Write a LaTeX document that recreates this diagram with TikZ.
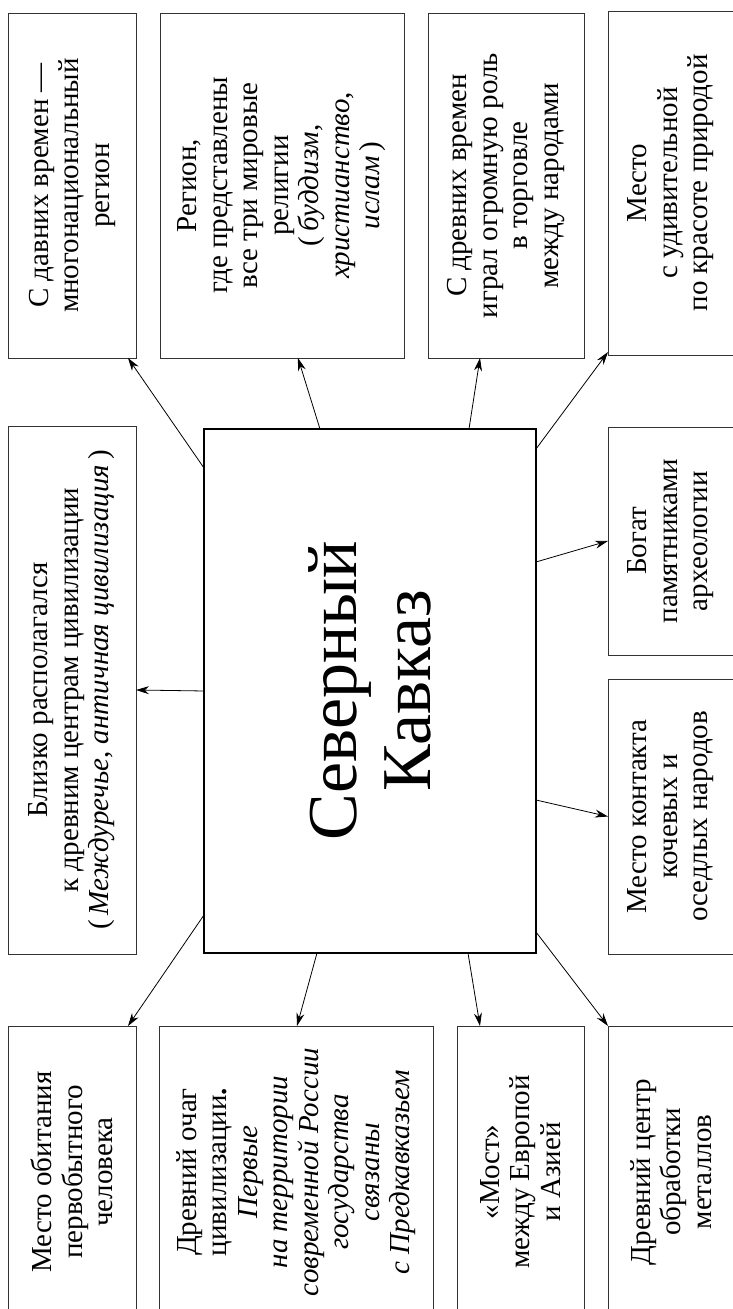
\documentclass[tikz,border=0pt]{standalone}
\usepackage{fontspec}
\setmainfont{Liberation Serif}
\usetikzlibrary{arrows.meta}
\begin{document}
\begin{tikzpicture}[x={(0pt,-1pt)}, y={(-1pt,0pt)}, shift={(1309pt,733pt)},
  execute at begin picture={\special{pdf:put @thispage <</Rotate 270>>}},
  box/.style={draw=black!80, line width=0.9pt, inner sep=0pt, outer sep=0pt},
  hub/.style={draw=black, line width=2pt, inner sep=0pt, outer sep=0pt},
  txt/.style={align=center, inner sep=0pt, font=\fontsize{29}{30.5}\selectfont},
  big/.style={align=center, inner sep=0pt, font=\fontsize{70}{74}\selectfont},
  arr/.style={-{Stealth[length=13pt,width=8pt]}, line width=0.8pt},
]
\useasboundingbox (0,0) rectangle (733,1309);

% boxes (portrait coordinates; widths/heights swapped for the turned page)
\node[box, minimum width=345pt, minimum height=128pt] (A) at (72,185.5) {};
\node[box, minimum width=345pt, minimum height=244pt] (B) at (282,185.5) {};
\node[box, minimum width=345pt, minimum height=156pt] (C) at (506,185.5) {};
\node[box, minimum width=344pt, minimum height=130pt] (D) at (673,183) {};
\node[box, minimum width=528pt, minimum height=128pt] (E) at (72,690) {};
\node[hub, minimum width=524pt, minimum height=332pt] (cen) at (370,691) {};
\node[box, minimum width=228pt, minimum height=130pt] (F) at (673,541) {};
\node[box, minimum width=275pt, minimum height=130pt] (G) at (673,816.5) {};
\node[box, minimum width=292pt, minimum height=128pt] (H) at (72,1172) {};
\node[box, minimum width=292pt, minimum height=274pt] (I) at (296,1172) {};
\node[box, minimum width=292pt, minimum height=127pt] (J) at (520.5,1172) {};
\node[box, minimum width=292pt, minimum height=130pt] (K) at (673,1172) {};

% texts
\node[txt] (At) at (A) {С давних времен —\\многонациональный\\регион};
\node[txt] (Bt) at (B) {Регион,\\где представлены\\все три мировые\\религии\\(\,\textit{буддизм},\\\textit{христианство},\\\textit{ислам}\,)};
\node[txt] (Ct) at (C) {С древних времен\\играл огромную роль\\в торговле\\между народами};
\node[txt] (Dt) at (671,183) {Место\\с удивительной\\по красоте природой};
\node[txt] (Et) at (E) {Близко располагался\\к древним центрам цивилизации\\(\,\textit{Междуречье}, \textit{античная цивилизация}\,)};
\node[big] (cent) at (cen) {Северный\\Кавказ};
\node[txt] (Ft) at (671,541) {Богат\\памятниками\\археологии};
\node[txt] (Gt) at (671,816.5) {Место контакта\\кочевых и\\оседлых народов};
\node[txt] (Ht) at (H) {Место обитания\\первобытного\\человека};
\node[txt] (It) at (I) {Древний очаг\\цивилизации\textbf{.}\\\textit{Первые}\\\textit{на территории}\\\textit{современной России}\\\textit{государства}\\\textit{связаны}\\\textit{с Предкавказьем}};
\node[txt] (Jt) at (J) {«Мост»\\между Европой\\и Азией};
\node[txt] (Kt) at (671,1172) {Древний центр\\обработки\\металлов};

% connectors
\draw[arr] ([xshift=-39pt]cen.north east) -- ([yshift=8pt]A.south west);
\draw[arr] ([yshift=-116pt]cen.north east) -- ([yshift=-138pt]B.north west);
\draw[arr] (cen.north) -- (E.south);
\draw[arr] ([yshift=-265pt]cen.north east) -- ([yshift=-52pt]C.north west);
\draw[arr] ([xshift=-20pt]cen.south east) -- ([xshift=3pt]D.north west);
\draw[arr] ([xshift=-133pt]cen.south east) -- (F.north);
\draw[arr] ([xshift=-371pt]cen.south east) -- (G.north);
\draw[arr] ([xshift=21pt]cen.south west) -- (K.north east);
\draw[arr] ([yshift=68pt]cen.south west) -- ([yshift=-23pt]J.north east);
\draw[arr] ([yshift=-113pt]cen.north west) -- ([yshift=-138pt]I.north east);
\draw[arr] ([xshift=38pt]cen.north west) -- ([yshift=8pt]H.south east);
\end{tikzpicture}
\end{document}
